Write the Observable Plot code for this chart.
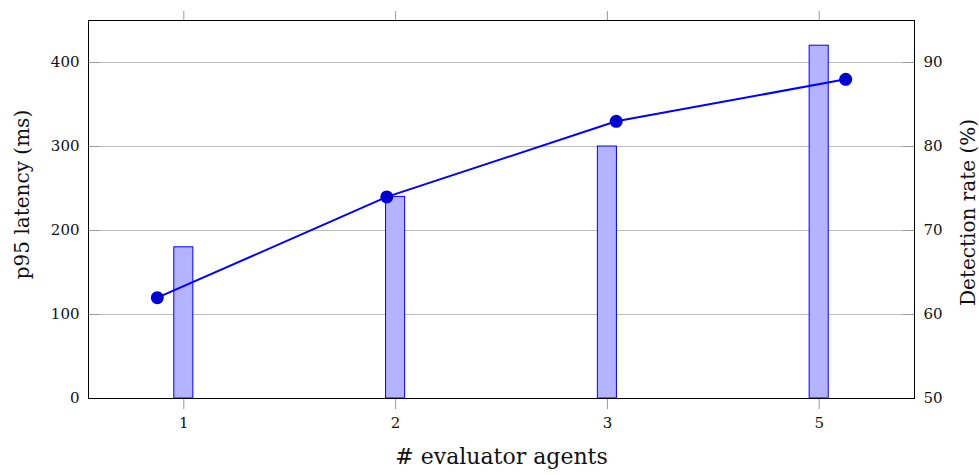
<!DOCTYPE html>
<html><head><meta charset="utf-8">
<script src="https://cdn.jsdelivr.net/npm/d3@7"></script>
<script src="https://cdn.jsdelivr.net/npm/@observablehq/plot@0.6"></script>
<style>html,body{margin:0;padding:0;background:#fff}</style>
</head><body><div id="chart"></div>
<script>
// ---- data ----
const categories = ["1", "2", "3", "5"];          // # evaluator agents
const latency = [180, 240, 300, 420];             // p95 latency (ms), bars, left axis
const detection = [62, 74, 83, 88];               // detection rate (%), line, right axis
const latencyTicks = [0, 100, 200, 300, 400];
const detectionTicks = [50, 60, 70, 80, 90];
const xLabel = "# evaluator agents";
const yLeftLabel = "p95 latency (ms)";
const yRightLabel = "Detection rate (%)";

// ---- scales / helpers ----
const idx = categories.map((c, i) => i);
const bars = categories.map((c, i) => ({i, c, v: latency[i]}));
const pts = categories.map((c, i) => ({i, c, v: detection[i]}));
// the line lives on a second overlaid axis with smaller x enlargement
const lineX = d3.scaleLinear([-0.3, 3.3], [-0.45, 3.45]);
// right axis (50–95 %) mapped onto the left axis units (0–450 ms)
const rightY = d3.scaleLinear([50, 95], [0, 450]);
const hw = 0.045;
const blue = "#0000ff";
const ink = "#111";
const tickFont = 15;

const chart = Plot.plot({
  width: 979, height: 475,
  marginLeft: 88, marginRight: 65, marginTop: 20, marginBottom: 77,
  style: {fontFamily: "'DejaVu Serif', serif", fontSize: "15px", background: "#fff", color: ink},
  x: {type: "linear", domain: [-0.45, 3.45]},
  y: {domain: [0, 450]},
  marks: [
    Plot.gridY(latencyTicks.slice(1), {stroke: "#bdbdbd", strokeOpacity: 1}),
    Plot.rectY(bars, {x1: d => d.i - hw, x2: d => d.i + hw, y1: 0, y2: "v",
      fill: "#b3b3ff", stroke: blue, strokeWidth: 1}),
    Plot.line(pts, {x: d => lineX(d.i), y: d => rightY(d.v), stroke: blue, strokeWidth: 2}),
    Plot.dot(pts, {x: d => lineX(d.i), y: d => rightY(d.v), r: 6.5, fill: "#0000d0", stroke: "none"}),
    Plot.axisX({anchor: "bottom", ticks: idx, tickFormat: i => categories[i], tickSize: 11, tickPadding: 8,
      stroke: "#9a9a9a", fill: ink, fontSize: tickFont, label: null}),
    Plot.axisX({anchor: "top", ticks: idx, tickFormat: () => "", tickSize: 10, stroke: "#9a9a9a", label: null}),
    Plot.axisY({anchor: "left", ticks: latencyTicks, tickSize: 0, tickPadding: 9, fill: ink, fontSize: tickFont, label: null}),
    Plot.axisY({anchor: "left", ticks: latencyTicks, tickSize: -12, tickFormat: () => "", stroke: "#9a9a9a", label: null}),
    Plot.axisY({anchor: "right", ticks: detectionTicks.map(rightY), tickFormat: v => String(Math.round(rightY.invert(v))),
      tickSize: 0, tickPadding: 9, fill: ink, fontSize: tickFont, label: null}),
    Plot.axisY({anchor: "right", ticks: detectionTicks.map(rightY), tickFormat: () => "", tickSize: -12, stroke: "#9a9a9a", label: null}),
    Plot.frame({stroke: "#000", strokeWidth: 1}),
    Plot.text([yLeftLabel], {frameAnchor: "left", textAnchor: "middle", dx: -66, dy: -15, rotate: -90, fontSize: 20, fill: ink}),
    Plot.text([yRightLabel], {frameAnchor: "right", textAnchor: "middle", dx: 54, dy: 3, rotate: -90, fontSize: 20, fill: ink}),
    Plot.text([xLabel], {frameAnchor: "bottom", dy: 65, fontSize: 22, fill: ink})
  ]
});
document.getElementById("chart").appendChild(chart);
</script>
</body></html>
